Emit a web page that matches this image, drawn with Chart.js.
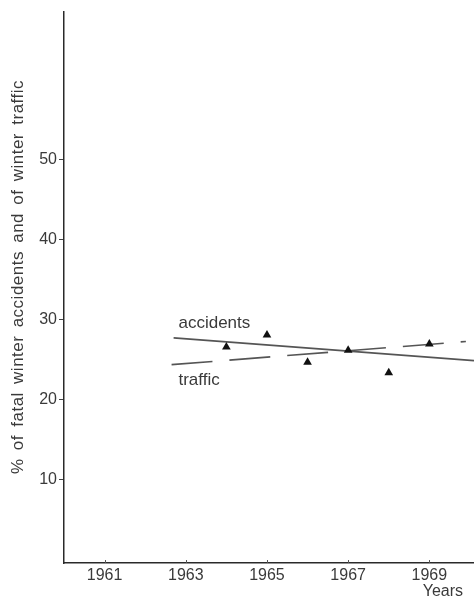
<!DOCTYPE html>
<html>
<head>
    <title>Winter accidents and traffic</title>
    <script src="https://cdn.jsdelivr.net/npm/chart.js@4.4.1/dist/chart.umd.min.js"></script>
    <style>
        html, body {
            margin: 0;
            padding: 0;
            background: #ffffff;
        }
        .chart-box {
            width: 474px;
            height: 600px;
        }
    </style>
</head>
<body>
    <div class="chart-box">
        <canvas id="winterChart" width="474" height="600"></canvas>
    </div>

    <script>
        // Yearly share of fatal winter accidents
        const years = [1964, 1965, 1966, 1967, 1968, 1969];
        const accidentShare = [26.6, 28.1, 24.7, 26.2, 23.4, 27.0];

        // Fitted trend lines (start / end)
        const accidentTrendX = [1962.7, 1970.1];
        const accidentTrendY = [27.75, 24.9];
        const trafficTrendX = [1962.65, 1969.9];
        const trafficTrendY = [24.4, 27.3];

        const yearTicks = [1961, 1963, 1965, 1967, 1969];
        const percentTicks = [10, 20, 30, 40, 50];

        const yTitle = '% of fatal winter accidents and of winter traffic';
        const xTitle = 'Years';

        const ink = '#3a3a3a';
        const font = 'Liberation Sans, Arial, Helvetica, sans-serif';

        const toPoints = (xs, ys) => xs.map((x, i) => ({ x: x, y: ys[i] }));

        // line labels, anchored in data units
        const lineLabels = [
            { text: 'accidents', x: 1962.82, y: 29.6 },
            { text: 'traffic', x: 1962.82, y: 22.5 }
        ];

        const decorations = {
            id: 'decorations',
            afterDraw(chart) {
                const ctx = chart.ctx;
                const xs = chart.scales.x;
                const ys = chart.scales.y;
                const area = chart.chartArea;
                ctx.save();

                // small tick marks sitting on top of the x axis
                ctx.strokeStyle = '#555';
                ctx.lineWidth = 1;
                yearTicks.forEach(v => {
                    const px = Math.round(xs.getPixelForValue(v)) + 0.5;
                    ctx.beginPath();
                    ctx.moveTo(px, area.bottom);
                    ctx.lineTo(px, area.bottom - 3);
                    ctx.stroke();
                });

                ctx.fillStyle = ink;
                ctx.textBaseline = 'middle';

                ctx.font = '17px ' + font;
                ctx.textAlign = 'left';
                lineLabels.forEach(l => {
                    ctx.fillText(l.text, xs.getPixelForValue(l.x), ys.getPixelForValue(l.y));
                });

                ctx.font = '16px ' + font;
                ctx.textAlign = 'right';
                ctx.fillText(xTitle, area.right - 11, 592);

                // rotated y axis title, slightly spaced out
                ctx.translate(18, 277);
                ctx.rotate(-Math.PI / 2);
                ctx.font = '17px ' + font;
                ctx.textAlign = 'center';
                ctx.letterSpacing = '0.5px';
                ctx.wordSpacing = '3px';
                ctx.fillText(yTitle, 0, 0);
                ctx.restore();
            }
        };

        new Chart(document.getElementById('winterChart'), {
            type: 'scatter',
            data: {
                datasets: [
                    {
                        label: 'accidents',
                        data: toPoints(years, accidentShare),
                        pointStyle: 'triangle',
                        pointRadius: 5,
                        backgroundColor: '#111',
                        borderColor: '#111',
                        borderWidth: 0
                    },
                    {
                        label: 'accidents trend',
                        data: toPoints(accidentTrendX, accidentTrendY),
                        showLine: true,
                        pointRadius: 0,
                        borderColor: '#555',
                        borderWidth: 1.6
                    },
                    {
                        label: 'traffic trend',
                        data: toPoints(trafficTrendX, trafficTrendY),
                        showLine: true,
                        pointRadius: 0,
                        borderColor: '#555',
                        borderWidth: 1.6,
                        borderDash: [41, 17]
                    }
                ]
            },
            options: {
                responsive: false,
                animation: false,
                layout: { autoPadding: false, padding: { top: 12, right: 0, left: 0, bottom: 0 } },
                plugins: {
                    legend: { display: false },
                    tooltip: { enabled: false }
                },
                scales: {
                    x: {
                        type: 'linear',
                        min: 1960,
                        max: 1970.1,
                        afterBuildTicks: s => { s.ticks = yearTicks.map(v => ({ value: v })); },
                        afterFit: s => { s.height = 37; },
                        grid: { display: true, drawOnChartArea: false, drawTicks: false },
                        border: { display: true, color: '#2a2a2a', width: 1.5 },
                        ticks: {
                            color: ink,
                            padding: 3,
                            maxRotation: 0,
                            font: { family: font, size: 16 },
                            callback: v => String(v)
                        }
                    },
                    y: {
                        min: -0.4,
                        max: 68.5,
                        afterBuildTicks: s => { s.ticks = percentTicks.map(v => ({ value: v })); },
                        afterFit: s => { s.width = 64; },
                        grid: { drawOnChartArea: false, tickLength: 5, color: '#444' },
                        border: { display: true, color: '#2a2a2a', width: 1.5 },
                        ticks: {
                            color: ink,
                            padding: 2,
                            font: { family: font, size: 16 }
                        }
                    }
                }
            },
            plugins: [decorations]
        });
    </script>
</body>
</html>
